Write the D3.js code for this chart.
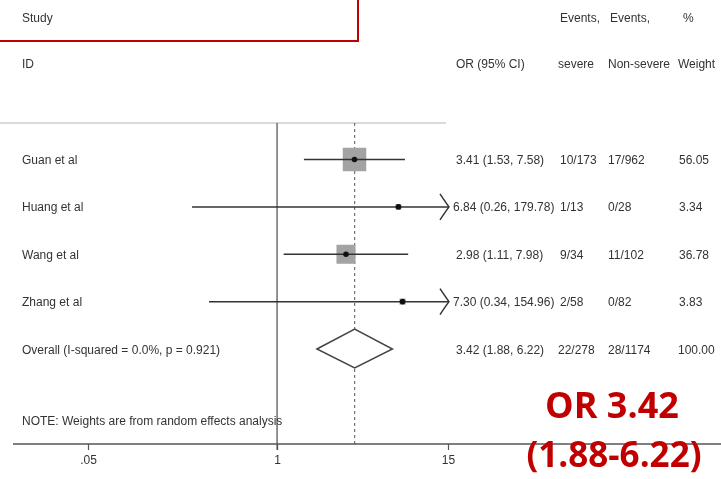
<!DOCTYPE html>
<html>
<head>
<meta charset="utf-8">
<script src="https://cdn.jsdelivr.net/npm/d3@7"></script>
<style>
  html, body { margin: 0; padding: 0; background: #fff; }
  svg { display: block; }
  .t { font-family: "Liberation Sans", Arial, sans-serif; font-size: 12px; fill: #333; }
</style>
</head>
<body>
<svg id="chart" width="721" height="479"></svg>
<script>
// Study-level data
const studies = ["Guan et al", "Huang et al", "Wang et al", "Zhang et al"];
const orValues = [3.41, 6.84, 2.98, 7.30];
const ciLow = [1.53, 0.26, 1.11, 0.34];
const ciHigh = [7.58, 179.78, 7.98, 154.96];
const eventsSevere = ["10/173", "1/13", "9/34", "2/58"];
const eventsNonSevere = ["17/962", "0/28", "11/102", "0/82"];
const weights = [56.05, 3.34, 36.78, 3.83];

// Pooled estimate
const overallLabel = "Overall  (I-squared = 0.0%, p = 0.921)";
const overallOR = 3.42, overallLow = 1.88, overallHigh = 6.22;
const overallSevere = "22/278", overallNonSevere = "28/1174", overallWeight = 100.00;

// Axis ticks
const tickValues = [0.05, 1, 15];
const tickLabels = [".05", "1", "15"];

const svg = d3.select("#chart");
const plot = svg.append("g").style("filter", "blur(0.35px)");

const x = d3.scaleLog().domain([0.05, 15]).range([88, 448]);
const y = d3.scaleLinear().domain([0, 4]).range([159.5, 349]);
const side = d3.scaleSqrt().domain([0, 56.05]).range([0, 23.5]);

const topY = 123, axisY = 444;
const colOR = 456, colSev = 558, colNon = 608, colW = 679;

// Header
const hdr = plot.append("g").attr("class", "t");
hdr.append("text").attr("x", 22).attr("y", 22).text("Study");
hdr.append("text").attr("x", 22).attr("y", 68).text("ID");
hdr.append("text").attr("x", colOR).attr("y", 68).text("OR (95% CI)");
hdr.append("text").attr("x", 560).attr("y", 22).text("Events,");
hdr.append("text").attr("x", colNon + 2).attr("y", 22).text("Events,");
hdr.append("text").attr("x", 683).attr("y", 22).text("%");
hdr.append("text").attr("x", colSev).attr("y", 68).text("severe");
hdr.append("text").attr("x", colNon).attr("y", 68).text("Non-severe");
hdr.append("text").attr("x", 678).attr("y", 68).text("Weight");

// Frame lines
plot.append("line").attr("x1", 0).attr("x2", 446).attr("y1", topY).attr("y2", topY)
  .attr("stroke", "#b5b5b5").attr("stroke-width", 1.2);
plot.append("line").attr("x1", x(1)).attr("x2", x(1)).attr("y1", topY).attr("y2", axisY + 6)
  .attr("stroke", "#777").attr("stroke-width", 1.6);
plot.append("line").attr("x1", x(overallOR)).attr("x2", x(overallOR)).attr("y1", topY).attr("y2", axisY)
  .attr("stroke", "#555").attr("stroke-width", 1).attr("stroke-dasharray", "3,3");

// Axis
const axis = d3.axisBottom(x).tickValues(tickValues)
  .tickFormat((d, i) => tickLabels[i]).tickSize(6).tickPadding(5);
const ax = plot.append("g").attr("transform", `translate(0,${axisY})`).call(axis);
ax.select(".domain").remove();
ax.selectAll(".tick line").attr("stroke", "#555").attr("stroke-width", 1.2);
ax.selectAll(".tick text").attr("class", "t").attr("fill", "#333")
  .style("font-family", "'Liberation Sans', Arial, sans-serif").style("font-size", "12px");
plot.append("line").attr("x1", 13).attr("x2", 721).attr("y1", axisY).attr("y2", axisY)
  .attr("stroke", "#555").attr("stroke-width", 1.5);

// Study rows
const [xMin, xMax] = x.domain();
studies.forEach((name, i) => {
  const cy = y(i);
  const lo = Math.max(ciLow[i], xMin), hi = Math.min(ciHigh[i], xMax);
  const s = side(weights[i]);
  plot.append("rect").attr("x", x(orValues[i]) - s / 2).attr("y", cy - s / 2)
    .attr("width", s).attr("height", s).attr("fill", "#a3a3a3");
  plot.append("line").attr("x1", x(lo)).attr("x2", x(hi)).attr("y1", cy).attr("y2", cy)
    .attr("stroke", "#333").attr("stroke-width", 1.5);
  const clipped = ciHigh[i] > xMax;
  if (clipped) {
    const tx = x(xMax) + 1;
    plot.append("path")
      .attr("d", `M${tx - 9},${cy - 13} Q${tx - 3},${cy - 4} ${tx},${cy} Q${tx - 3},${cy + 4} ${tx - 9},${cy + 13}`)
      .attr("fill", "none").attr("stroke", "#333").attr("stroke-width", 1.5);
  }
  plot.append("circle").attr("cx", x(orValues[i])).attr("cy", cy).attr("r", 2.8).attr("fill", "#111");

  const g = plot.append("g").attr("class", "t");
  g.append("text").attr("x", 22).attr("y", cy + 4.5).text(name);
  const orX = clipped ? x(xMax) + 5 : colOR;
  const orText = g.append("text").attr("x", orX).attr("y", cy + 4.5)
    .text(`${orValues[i].toFixed(2)} (${ciLow[i].toFixed(2)}, ${ciHigh[i].toFixed(2)})`);
  const orEnd = orX + orText.node().getComputedTextLength();
  g.append("text").attr("x", Math.max(colSev + 2, orEnd + 3)).attr("y", cy + 4.5).text(eventsSevere[i]);
  g.append("text").attr("x", colNon).attr("y", cy + 4.5).text(eventsNonSevere[i]);
  g.append("text").attr("x", colW).attr("y", cy + 4.5).text(weights[i].toFixed(2));
});

// Pooled diamond
const oy = y(4);
plot.append("path")
  .attr("d", `M${x(overallLow)},${oy} L${x(overallOR)},${oy - 20} L${x(overallHigh)},${oy} L${x(overallOR)},${oy + 19} Z`)
  .attr("fill", "#fff").attr("stroke", "#444").attr("stroke-width", 1.5);
const og = plot.append("g").attr("class", "t");
og.append("text").attr("x", 22).attr("y", oy + 4.5).text(overallLabel);
og.append("text").attr("x", colOR).attr("y", oy + 4.5)
  .text(`${overallOR.toFixed(2)} (${overallLow.toFixed(2)}, ${overallHigh.toFixed(2)})`);
og.append("text").attr("x", colSev).attr("y", oy + 4.5).text(overallSevere);
og.append("text").attr("x", colNon).attr("y", oy + 4.5).text(overallNonSevere);
og.append("text").attr("x", colW - 1).attr("y", oy + 4.5).text(overallWeight.toFixed(2));

og.append("text").attr("x", 22).attr("y", 425).text("NOTE: Weights are from random effects analysis");

// Highlight box around the header
svg.append("rect").attr("x", -5).attr("y", -5).attr("width", 363).attr("height", 46)
  .attr("fill", "none").attr("stroke", "#c00000").attr("stroke-width", 2);

// Pooled OR callout
const callout = svg.append("g").attr("fill", "#c00000")
  .style("font-family", "'Open Sans', sans-serif").style("font-weight", "bold")
  .attr("text-anchor", "middle");
callout.append("text").attr("x", 612).attr("y", 418).style("font-size", "36px")
  .text(`OR ${overallOR.toFixed(2)}`);
callout.append("text").attr("x", 614).attr("y", 467).style("font-size", "35px")
  .text(`(${overallLow.toFixed(2)}-${overallHigh.toFixed(2)})`);
</script>
</body>
</html>
